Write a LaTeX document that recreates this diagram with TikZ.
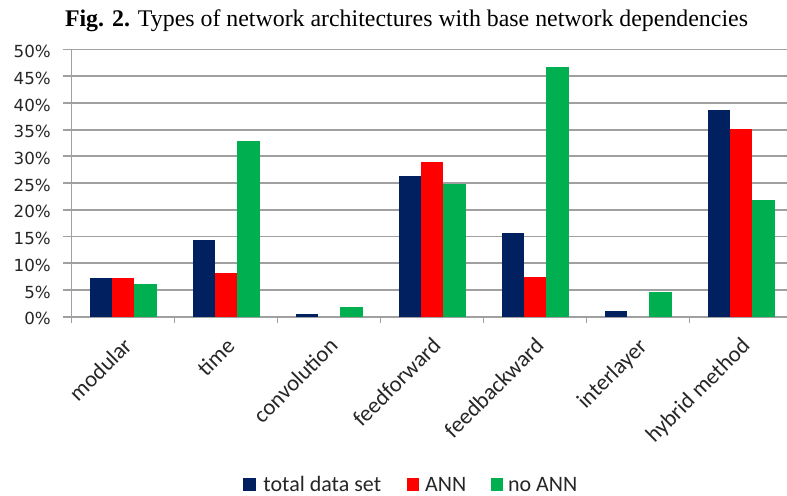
\documentclass[tikz,border=0pt]{standalone}
\usepackage{fontspec}
\usetikzlibrary{positioning}
\newfontfamily\titlefont{Liberation Serif}
\newfontfamily\chartfont{Carlito}
\newfontfamily\axisfont{DejaVu Sans}
\definecolor{navy}{HTML}{002060}
\definecolor{annred}{HTML}{FF0000}
\definecolor{noann}{HTML}{00B050}
\definecolor{gridgray}{HTML}{A0A0A0}

\begin{document}
\begin{tikzpicture}[x=0.75pt,y=-0.75pt,
  gridline/.style={gridgray,line width=1.4pt},
  ylab/.style={anchor=east,inner sep=0pt,yshift=-1.5pt,font=\axisfont\fontsize{12.5}{14}\selectfont,text=black!85},
  catlab/.style={anchor=north east,inner sep=0pt,rotate=45,font=\chartfont\fontsize{17}{19}\selectfont,text=black!85},
  key/.style={minimum width=9.4pt,minimum height=9.8pt,inner sep=0pt},
  keytext/.style={inner sep=0pt,font=\chartfont\fontsize{16.5}{18}\selectfont,text=black!85}]
  \useasboundingbox (0,0) rectangle (787,495);

  % title
  \node[anchor=base,inner sep=0pt,font=\titlefont\fontsize{17.9}{20}\selectfont] (title) at (406.5,26.7)
    {\textbf{Fig. 2.} Types of network architectures with base network dependencies};

  % plot area, y in percent
  \begin{scope}[shift={(0,316.7)},y=4.008pt]
    \foreach \v in {0,5,...,50}
      \draw[gridline] (63,\v) -- (787,\v);
    \draw[gridline] (71.5,-1.2) -- (71.5,50);
    \foreach \x in {174.5,277.5,380.5,483.5,586.5,689.5}
      \draw[gridline] (\x,0) -- (\x,-1.2);
    \foreach \v in {0,5,...,50}
      \node[ylab] (y\v) at (51,\v) {\v\%};

    % modular
    \fill[navy]    (89.5,0)  rectangle (111.8,7.2);
    \fill[annred]  (111.8,0) rectangle (134.2,7.2);
    \fill[noann]   (134.2,0) rectangle (156.5,6.2);
    % time
    \fill[navy]    (192.5,0) rectangle (214.8,14.3);
    \fill[annred]  (214.8,0) rectangle (237.2,8.2);
    \fill[noann]   (237.2,0) rectangle (259.5,32.9);
    % convolution
    \fill[navy]    (295.5,0) rectangle (317.8,0.45);
    \fill[noann]   (340.2,0) rectangle (362.5,1.75);
    % feedforward
    \fill[navy]    (398.5,0) rectangle (420.8,26.4);
    \fill[annred]  (420.8,0) rectangle (443.2,29.0);
    \fill[noann]   (443.2,0) rectangle (465.5,24.9);
    % feedbackward
    \fill[navy]    (501.5,0) rectangle (523.8,15.6);
    \fill[annred]  (523.8,0) rectangle (546.2,7.5);
    \fill[noann]   (546.2,0) rectangle (568.5,46.7);
    % interlayer
    \fill[navy]    (604.5,0) rectangle (626.8,1.1);
    \fill[noann]   (649.2,0) rectangle (671.5,4.6);
    % hybrid method
    \fill[navy]    (707.5,0) rectangle (729.8,38.7);
    \fill[annred]  (729.8,0) rectangle (752.2,35.1);
    \fill[noann]   (752.2,0) rectangle (774.5,21.9);
  \end{scope}

  % category labels
  \node[catlab] (modular)      at (122,336) {modular};
  \node[catlab] (time)         at (225,336) {time};
  \node[catlab] (convolution)  at (328,336) {convolution};
  \node[catlab] (feedforward)  at (431,336) {feedforward};
  \node[catlab] (feedbackward) at (534,336) {feedbackward};
  \node[catlab] (interlayer)   at (637,336) {interlayer};
  \node[catlab] (hybrid)       at (740,336) {hybrid method};

  % legend
  \node[key,fill=navy]   (ktotal) at (249.3,484.3) {};
  \node[keytext,right=5.5pt of ktotal] (ltotal) {total data set};
  \node[key,fill=annred] (kann)   at (413,484.3) {};
  \node[keytext,right=4pt of kann] (lann) {ANN};
  \node[key,fill=noann]  (knoann) at (497.2,484.3) {};
  \node[keytext,right=3pt of knoann] (lnoann) {no ANN};
\end{tikzpicture}
\end{document}
